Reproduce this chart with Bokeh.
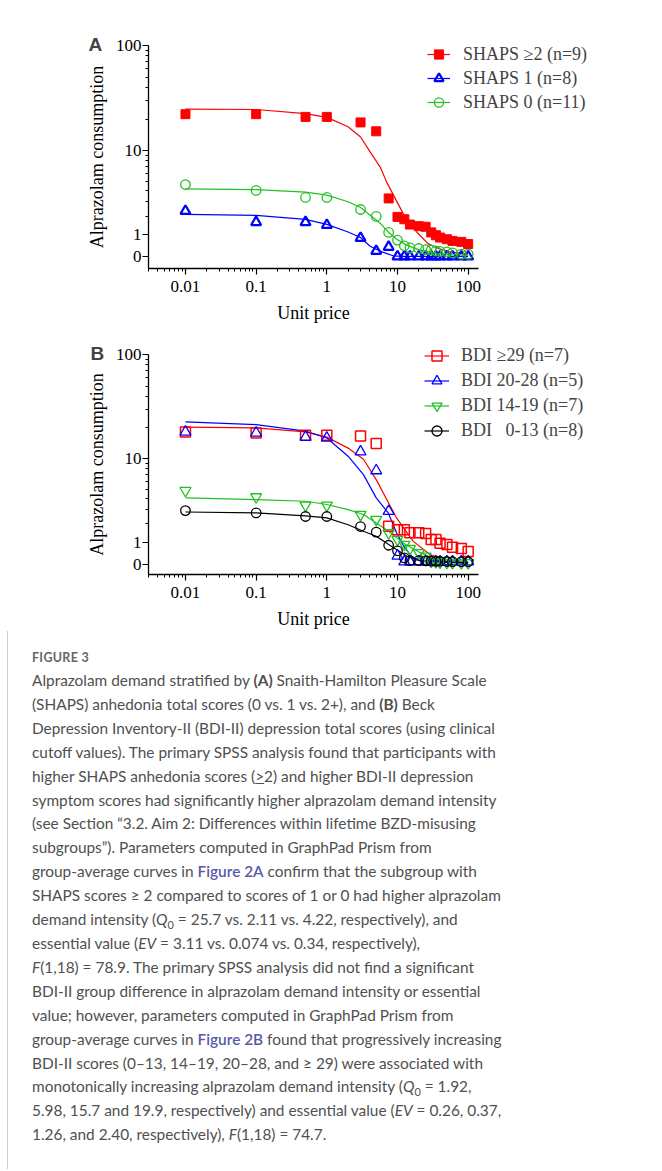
import numpy as np
from bokeh.plotting import figure
from bokeh.models import FixedTicker, Legend, LegendItem, Div, Range1d
from bokeh.layouts import column
from bokeh.embed import file_html
from bokeh.resources import INLINE

# ---------------- data ----------------
prices = [0.01, 0.1, 0.5, 1, 3, 5, 7.5, 10, 12.5, 15, 20, 25, 30, 35, 40, 50, 60, 80, 100]

# Panel A: SHAPS groups (group means)
shaps_ge2 = [22.3, 22.3, 21.0, 21.0, 18.6, 15.3, 3.27, 1.95, 1.81, 1.51, 1.42, 1.39, 1.10, 0.96, 0.85, 0.77, 0.69, 0.65, 0.55]
shaps_1 = [2.33, 1.64, 1.64, 1.48, 0.83, 0.24, 0.42, 0, 0, 0, 0, 0, 0, 0, 0, 0, 0, 0, 0]
shaps_0 = [4.60, 3.99, 3.35, 3.35, 2.43, 1.98, 1.10, 0.73, 0.47, 0.38, 0.35, 0.30, 0.28, 0.24, 0.22, 0.20, 0.16, 0.10, 0.10]

# Panel A fitted curves
fitA_ge2_x = [0.01, 0.1, 0.5, 1, 2, 3, 4.1, 5.7, 7, 12, 18.7, 27, 38, 55, 100]
fitA_ge2_y = [24.9, 24.7, 22.6, 20.8, 16.9, 13.5, 9.7, 6.9, 4.9, 2.17, 1.12, 0.57, 0.35, 0.20, 0.10]
fitA_1_x = [0.01, 0.1, 0.5, 1, 2, 3, 4.1, 6, 8.7, 12, 100]
fitA_1_y = [2.11, 2.04, 1.80, 1.52, 1.12, 0.85, 0.45, 0.20, 0.03, 0.0, 0.0]
fitA_0_x = [0.01, 0.1, 0.5, 1, 2, 3, 5.8, 7.4, 9.7, 13.5, 20.8, 35.7, 100]
fitA_0_y = [4.15, 4.08, 3.82, 3.55, 3.0, 2.57, 1.55, 1.12, 0.77, 0.50, 0.28, 0.13, 0.05]

# Panel B: BDI groups (group means)
bdi_ge29 = [18.15, 17.8, 16.9, 16.9, 16.6, 14.1, 1.86, 1.66, 1.66, 1.48, 1.48, 1.44, 1.13, 1.13, 0.95, 0.88, 0.75, 0.69, 0.56]
bdi_20_28 = [18.15, 17.8, 16.2, 15.9, 11.7, 7.67, 2.88, 0.36, 0.10, 0.10, 0.10, 0.10, 0.10, 0.10, 0.10, 0.10, 0.10, 0.10, 0.10]
bdi_14_19 = [4.82, 4.14, 3.36, 3.36, 2.63, 2.28, 1.48, 1.13, 0.88, 0.69, 0.50, 0.34, 0.12, 0.10, 0.08, 0.06, 0.05, 0.05, 0.05]
bdi_0_13 = [2.93, 2.75, 2.49, 2.49, 1.84, 1.52, 0.85, 0.59, 0.27, 0.15, 0.15, 0.14, 0.13, 0.12, 0.12, 0.11, 0.10, 0.10, 0.10]

# Panel B fitted curves
fitB_ge29_x = [0.01, 0.1, 0.5, 1, 2, 3.3, 5, 9.7, 16.6, 28.7, 49, 100]
fitB_ge29_y = [20.2, 19.9, 18.2, 16.2, 12.7, 9.9, 6.24, 2.39, 1.05, 0.42, 0.20, 0.10]
fitB_20_28_x = [0.01, 0.1, 0.5, 1, 2, 3.3, 5, 7.4, 9.7, 12.7, 16.6, 21.5, 100]
fitB_20_28_y = [22.7, 21.4, 18.5, 15.9, 10.6, 7.0, 4.05, 2.75, 1.48, 0.71, 0.27, 0.12, 0.03]
fitB_14_19_x = [0.01, 0.1, 0.5, 1, 2, 3.3, 5, 7.5, 12.2, 21, 36, 100]
fitB_14_19_y = [4.05, 3.88, 3.72, 3.43, 3.0, 2.63, 2.06, 1.57, 0.95, 0.50, 0.20, 0.08]
fitB_0_13_x = [0.01, 0.1, 0.5, 1, 2, 3.3, 5, 7.5, 9.7, 13.6, 21, 100]
fitB_0_13_y = [2.82, 2.75, 2.54, 2.39, 1.95, 1.57, 1.30, 0.88, 0.65, 0.34, 0.15, 0.05]

# Axis ticks
y_major = [0, 1, 10, 100]
y_minor = [2, 3, 4, 5, 6, 7, 8, 9, 20, 30, 40, 50, 60, 70, 80, 90]
x_major = [0.01, 0.1, 1, 10, 100]
x_major_labels = ["0.01", "0.1", "1", "10", "100"]

legend_A = ["SHAPS \u22652 (n=9)", "SHAPS 1 (n=8)", "SHAPS 0 (n=11)"]
legend_B = ["BDI \u226529 (n=7)", "BDI 20-28 (n=5)", "BDI 14-19 (n=7)",
            "BDI\u00a0\u00a0\u00a00-13 (n=8)"]

caption_title = "FIGURE 3"
caption_lines = [
    'Alprazolam demand stratified by <b>(A)</b> Snaith-Hamilton Pleasure Scale',
    '(SHAPS) anhedonia total scores (0 vs. 1 vs. 2+), and <b>(B)</b> Beck',
    'Depression Inventory-II (BDI-II) depression total scores (using clinical',
    'cutoff values). The primary SPSS analysis found that participants with',
    'higher SHAPS anhedonia scores (<u>&gt;</u>2) and higher BDI-II depression',
    'symptom scores had significantly higher alprazolam demand intensity',
    '(see Section \u201c3.2. Aim 2: Differences within lifetime BZD-misusing',
    'subgroups\u201d). Parameters computed in GraphPad Prism from',
    'group-average curves in <a>Figure 2A</a> confirm that the subgroup with',
    'SHAPS scores \u2265 2 compared to scores of 1 or 0 had higher alprazolam',
    'demand intensity (<i>Q</i><sub>0</sub> = 25.7 vs. 2.11 vs. 4.22, respectively), and',
    'essential value (<i>EV</i> = 3.11 vs. 0.074 vs. 0.34, respectively),',
    '<i>F</i>(1,18) = 78.9. The primary SPSS analysis did not find a significant',
    'BDI-II group difference in alprazolam demand intensity or essential',
    'value; however, parameters computed in GraphPad Prism from',
    'group-average curves in <a>Figure 2B</a> found that progressively increasing',
    'BDI-II scores (0\u201313, 14\u201319, 20\u201328, and \u2265 29) were associated with',
    'monotonically increasing alprazolam demand intensity (<i>Q</i><sub>0</sub> = 1.92,',
    '5.98, 15.7 and 19.9, respectively) and essential value (<i>EV</i> = 0.26, 0.37,',
    '1.26, and 2.40, respectively), <i>F</i>(1,18) = 74.7.',
]

# ---------------- helpers ----------------
def ihs(v):
    v = np.asarray(v, dtype=float)
    return np.log10(0.5 * v + np.sqrt(0.25 * v * v + 1.0))

SERIF = "Liberation Serif"
RED, BLUE, GREEN, BLACK = "#ff0000", "#0000ff", "#22c022", "#000000"
PAGE_W = 662
FRAME_W = 330


def make_fig(letter, frame_left, frame_top, frame_h, bottom, y_start):
    p = figure(output_backend="svg", toolbar_location=None, x_axis_type="log",
               x_range=Range1d(0.003, 140), y_range=Range1d(y_start, float(ihs(100))),
               frame_width=FRAME_W, frame_height=frame_h)
    p.min_border_left = frame_left
    p.min_border_right = PAGE_W - frame_left - FRAME_W
    p.min_border_top = frame_top
    p.min_border_bottom = bottom
    p.grid.visible = False
    p.outline_line_color = None
    # panel letter as the plot title, pulled left/down next to the y axis top
    p.title.text = letter
    p.title.text_font = "Liberation Sans"
    p.title.text_font_size = "19px"
    p.title.text_font_style = "bold"
    p.title.align = "left"
    p.title.offset = 88 - frame_left
    p.title.vertical_align = "bottom"
    p.title.standoff = -19
    for ax in (p.xaxis[0], p.yaxis[0]):
        ax.axis_line_width = 1.3
        ax.axis_line_color = "black"
        ax.major_tick_line_color = "black"
        ax.minor_tick_line_color = "black"
        ax.major_tick_line_width = 1.2
        ax.minor_tick_line_width = 1.0
        ax.major_tick_in = 0
        ax.major_tick_out = 6
        ax.minor_tick_in = 0
        ax.minor_tick_out = 3
        ax.major_label_text_font = SERIF
        ax.major_label_text_font_size = "17px"
        ax.major_label_text_color = "black"
        ax.axis_label_text_font = SERIF
        ax.axis_label_text_font_size = "18px"
        ax.axis_label_text_font_style = "normal"
        ax.axis_label_text_color = "black"
    yt = [round(float(t), 6) for t in ihs(y_major)]
    ym = [round(float(t), 6) for t in ihs(y_minor)]
    p.yaxis.ticker = FixedTicker(ticks=yt, minor_ticks=ym)
    p.yaxis.major_label_overrides = {t: str(l) for t, l in zip(yt, y_major)}
    x_minor = []
    for e in range(-3, 3):
        for k in range(2, 10):
            v = round(k * 10.0 ** e, 6)
            if 0.003 <= v <= 140:
                x_minor.append(v)
    p.xaxis.ticker = FixedTicker(ticks=x_major, minor_ticks=x_minor)
    p.xaxis.major_label_overrides = dict(zip(x_major, x_major_labels))
    p.xaxis.axis_label = "Unit price"
    p.yaxis.axis_label = "Alprazolam consumption"
    p.xaxis.major_label_standoff = 6
    p.yaxis.major_label_standoff = 1
    p.xaxis.axis_label_standoff = 8
    p.yaxis.axis_label_standoff = 6
    return p


def add_legend(p, items, loc, gw, gh, standoff):
    leg = Legend(items=items, location=loc, orientation="vertical", padding=0, margin=0,
                 spacing=0, glyph_width=gw, glyph_height=gh, label_height=gh,
                 label_standoff=standoff, label_text_font=SERIF,
                 label_text_font_size="18px", label_text_baseline="middle",
                 border_line_color=None, background_fill_alpha=0)
    p.add_layout(leg, "right")


# ---------------- Panel A ----------------
pA = make_fig("A", 148, 45, 223, 56, -0.114)
lA1 = pA.line(fitA_ge2_x, ihs(fitA_ge2_y), line_color=RED, line_width=1.2)
sA1 = pA.scatter(prices, ihs(shaps_ge2), marker="square", size=9, fill_color=RED, line_color=RED)
lA2 = pA.line(fitA_1_x, ihs(fitA_1_y), line_color=BLUE, line_width=1.2)
sA2 = pA.scatter(prices, ihs(shaps_1), marker="triangle", size=10, fill_color=None,
                 line_color=BLUE, line_width=2.2)
lA3 = pA.line(fitA_0_x, ihs(fitA_0_y), line_color=GREEN, line_width=1.2)
sA3 = pA.scatter(prices, ihs(shaps_0), marker="circle", size=9.5, fill_color=None,
                 line_color=GREEN, line_width=1.3)
itemsA = [LegendItem(label=legend_A[0], renderers=[lA1, sA1]),
          LegendItem(label=legend_A[1], renderers=[lA2, sA2]),
          LegendItem(label=legend_A[2], renderers=[lA3, sA3])]
add_legend(pA, itemsA, (-51, 154), 23, 24, 13)

# ---------------- Panel B ----------------
pB = make_fig("B", 146, 29, 220, 57, -0.10)
lB1 = pB.line(fitB_ge29_x, ihs(fitB_ge29_y), line_color=RED, line_width=1.2)
lB2 = pB.line(fitB_20_28_x, ihs(fitB_20_28_y), line_color=BLUE, line_width=1.2)
lB3 = pB.line(fitB_14_19_x, ihs(fitB_14_19_y), line_color=GREEN, line_width=1.2)
lB4 = pB.line(fitB_0_13_x, ihs(fitB_0_13_y), line_color=BLACK, line_width=1.2)
sB1 = pB.scatter(prices, ihs(bdi_ge29), marker="square", size=10, fill_color=None,
                 line_color=RED, line_width=1.5)
sB2 = pB.scatter(prices, ihs(bdi_20_28), marker="triangle", size=11, fill_color=None,
                 line_color=BLUE, line_width=1.3)
sB3 = pB.scatter(prices, ihs(bdi_14_19), marker="inverted_triangle", size=11, fill_color=None,
                 line_color=GREEN, line_width=1.3)
sB4 = pB.scatter(prices, ihs(bdi_0_13), marker="circle", size=9.5, fill_color=None,
                 line_color=BLACK, line_width=1.3)
itemsB = [LegendItem(label=legend_B[0], renderers=[lB1, sB1]),
          LegendItem(label=legend_B[1], renderers=[lB2, sB2]),
          LegendItem(label=legend_B[2], renderers=[lB3, sB3]),
          LegendItem(label=legend_B[3], renderers=[lB4, sB4])]
add_legend(pB, itemsB, (-54, 131), 25, 25, 12)

# ---------------- Caption ----------------
body = "<br>".join(caption_lines)
body = body.replace("<a>", '<span style="color:#5a5aa8;font-weight:600;">').replace("</a>", "</span>")
caption_html = (
    '<div style="border-left:1px solid #d0d0d0;margin-left:7px;padding:16px 0 22px 24px;'
    'font-family:Lato,sans-serif;font-size:15.4px;line-height:23.9px;color:#505050;'
    'white-space:nowrap;">'
    '<div style="font-size:12.5px;font-weight:bold;color:#666;letter-spacing:0.3px;'
    'line-height:22px;">'
    + caption_title + '</div>' + body + '</div>'
)
caption_html = caption_html.replace("<sub>", '<sub style="font-size:11px;line-height:0;">')
div = Div(text=caption_html, width=PAGE_W - 10, margin=(0, 0, 0, 0))

layout = column(pA, pB, div, spacing=0)
open("out.html", "w").write(file_html(layout, INLINE))
